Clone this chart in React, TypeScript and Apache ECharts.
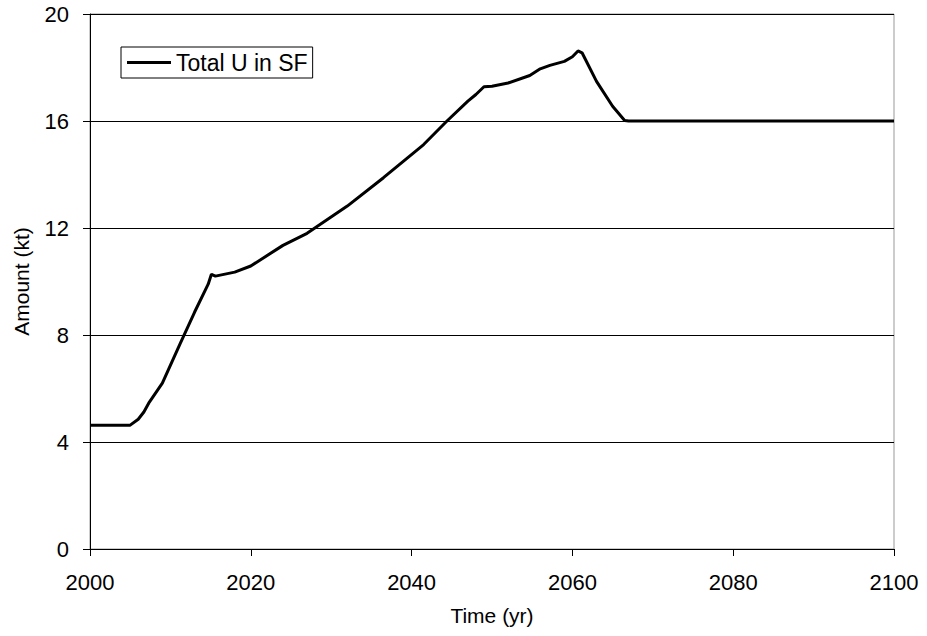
import React, { useEffect, useRef } from "react";
import * as echarts from "echarts";

const years = [2000, 2005, 2006, 2006.7, 2007.3, 2009, 2011.2, 2013, 2014.7, 2015.1, 2015.6, 2018, 2020, 2024, 2027, 2032, 2036.5, 2041.5, 2044.4, 2047, 2048, 2049, 2050, 2052, 2054.7, 2056, 2057.2, 2059, 2060, 2060.7, 2061.2, 2063, 2065, 2066.5, 2067, 2100];
const totalU = [4.63, 4.63, 4.85, 5.12, 5.45, 6.2, 7.67, 8.85, 9.9, 10.27, 10.2, 10.35, 10.58, 11.35, 11.8, 12.82, 13.88, 15.12, 16.0, 16.74, 16.99, 17.28, 17.3, 17.42, 17.7, 17.95, 18.08, 18.23, 18.4, 18.62, 18.55, 17.48, 16.55, 16.02, 16.0, 16.0];
const seriesName = "Total U in SF";
const xTitle = "Time (yr)";
const yTitle = "Amount (kt)";

export default function App() {
  const ref = useRef<HTMLDivElement>(null);
  useEffect(() => {
    if (!ref.current) return;
    const chart = echarts.init(ref.current, null, { renderer: "svg" });
    const font = "Liberation Sans, Arial, sans-serif";
    chart.setOption({
      animation: false,
      backgroundColor: "#fff",
      grid: {
        left: 90, right: 33, top: 14, bottom: 87,
        show: true, borderColor: "#999", borderWidth: 1,
      },
      legend: {
        left: 121, top: 47,
        padding: [4, 5, 4, 6],
        borderColor: "#000", borderWidth: 1,
        icon: "rect", itemWidth: 44, itemHeight: 3, itemGap: 4,
        textStyle: { fontFamily: font, fontSize: 23, color: "#000" },
        data: [seriesName],
      },
      xAxis: {
        type: "value", min: 2000, max: 2100, interval: 20,
        name: xTitle, nameLocation: "middle", nameGap: 56,
        nameTextStyle: { fontFamily: font, fontSize: 21, color: "#000" },
        axisLine: { show: true, lineStyle: { color: "#000", width: 1 } },
        axisTick: { show: true, inside: false, length: 7, lineStyle: { color: "#000" } },
        axisLabel: { fontFamily: font, fontSize: 22, color: "#000", margin: 22, formatter: (v: number) => String(v) },
        splitLine: { show: false },
      },
      yAxis: {
        type: "value", min: 0, max: 20, interval: 4,
        name: yTitle, nameLocation: "middle", nameGap: 58, nameRotate: 90,
        nameTextStyle: { fontFamily: font, fontSize: 21, color: "#000" },
        axisLine: { show: true, lineStyle: { color: "#000", width: 1 } },
        axisTick: { show: true, inside: false, length: 7, lineStyle: { color: "#000" } },
        axisLabel: { fontFamily: font, fontSize: 22, color: "#000", margin: 21, formatter: (v: number) => String(v) },
        splitLine: { show: true, lineStyle: { color: "#000", width: 1 } },
      },
      series: [
        {
          name: seriesName,
          type: "line",
          data: years.map((y, i) => [y, totalU[i]]),
          symbol: "none",
          lineStyle: { color: "#000", width: 3 },
          itemStyle: { color: "#000" },
          z: 5,
        },
      ],
    });
    return () => chart.dispose();
  }, []);
  return <div ref={ref} style={{ width: 927, height: 636, position: "absolute", left: 0, top: 0 }} />;
}
